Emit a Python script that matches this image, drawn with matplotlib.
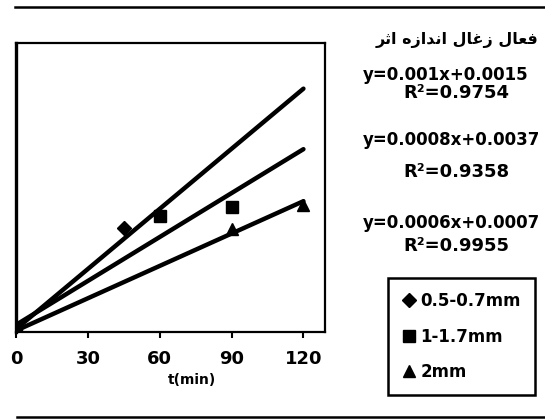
import numpy as np
import matplotlib
matplotlib.use("Agg")
import matplotlib.pyplot as plt
from matplotlib.lines import Line2D

# adsorption vs time for three activated-carbon particle sizes
sizes = ["0.5-0.7mm", "1-1.7mm", "2mm"]
markers = ["D", "s", "^"]
marker_sizes = [7.5, 9, 9]

x_diamond = [0, 45]
y_diamond = [0, 0.054]
x_square = [0, 60, 90]
y_square = [0, 0.060, 0.065]
x_triangle = [0, 90, 120]
y_triangle = [0, 0.0535, 0.066]

# linear trendlines (slope, intercept) and their R^2
slopes = [0.00104, 0.00076, 0.00056]
intercepts = [0.0015, 0.0037, 0.0007]
r_squared = ["0.9754", "0.9358", "0.9955"]
eq_labels = ["y=0.001x+0.0015", "y=0.0008x+0.0037", "y=0.0006x+0.0007"]

x_ticks = [0, 30, 60, 90, 120]


def shape_word(forms):
    # presentation forms are given in logical order; draw them right to left
    return "".join(chr(c) for c in reversed(forms))


title_words = [
    [0xFE8D, 0xFE9B, 0xFEAE],                          # اثر
    [0xFE8D, 0xFEE7, 0xFEAA, 0xFE8D, 0xFEAF, 0xFEE9],  # اندازه
    [0xFEAF, 0xFECF, 0xFE8E, 0xFEDD],                  # زغال
    [0xFED3, 0xFECC, 0xFE8E, 0xFEDD],                  # فعال
]
title = " ".join(shape_word(w) for w in title_words)

W, H = 545, 419
fig = plt.figure(figsize=(W / 100, H / 100), dpi=100)
fig.patch.set_facecolor("white")


def px(x, y):
    return x / W, 1 - y / H


left, top = px(16, 43)
right, bottom = px(325, 332)
ax = fig.add_axes([left, bottom, right - left, top - bottom])

xs = np.array([0, 120])
for slope, icpt in zip(slopes, intercepts):
    ax.plot(xs, slope * xs + icpt, color="black", linewidth=3.2,
            solid_capstyle="round", zorder=2)

series = [(x_diamond, y_diamond), (x_square, y_square), (x_triangle, y_triangle)]
handles = []
for (sx, sy), m, ms, lab in zip(series, markers, marker_sizes, sizes):
    h, = ax.plot(sx, sy, linestyle="none", marker=m, markersize=ms,
                 color="black", label=lab, zorder=3)
    handles.append(h)

ax.set_xlim(0, 129)
ax.set_ylim(0, 0.15)
ax.set_xticks(x_ticks)
ax.set_xticklabels([str(t) for t in x_ticks], fontsize=13, fontweight="bold")
ax.set_yticks([])
ax.tick_params(axis="x", direction="out", length=4, width=1.5, pad=9)
for sp in ax.spines.values():
    sp.set_linewidth(1.6)
ax.spines["left"].set_linewidth(2.4)

fx, fy = px(192, 380)
fig.text(fx, fy, "t(min)", fontsize=10, fontweight="bold", ha="center", va="center")

leg = ax.legend(handles=handles, loc="upper left", bbox_to_anchor=px(388, 278),
                bbox_transform=fig.transFigure, borderaxespad=0,
                prop={"size": 12, "weight": "bold"}, frameon=True, fancybox=False,
                edgecolor="black", framealpha=1, handlelength=0.8,
                handletextpad=0.3, labelspacing=1.05, borderpad=0.85,
                markerscale=0.95)
leg.get_frame().set_linewidth(1.8)

# equations block on the right
tx, ty = px(538, 40)
fig.text(tx, ty, title, fontsize=11.5, ha="right", va="center",
         family=["DejaVu Sans"], fontweight="bold")
eq_y = [75, 140, 223]
r_y = [93, 172, 246]
for lab, r2, ey, ry in zip(eq_labels, r_squared, eq_y, r_y):
    ex, ey_f = px(363, ey)
    fig.text(ex, ey_f, lab, fontsize=12, fontweight="bold", ha="left", va="center")
    rx, ry_f = px(456, ry)
    fig.text(rx, ry_f, "R\u00b2=" + r2, fontsize=13, fontweight="bold",
             ha="center", va="center")

# horizontal rules above and below the figure
for y, x0 in [(7, 15), (417, 17)]:
    a, b = px(x0, y)
    fig.add_artist(Line2D([a, 1], [b, b], transform=fig.transFigure,
                          color="black", linewidth=1.8))

fig.savefig("out.png", dpi=100, facecolor="white")
